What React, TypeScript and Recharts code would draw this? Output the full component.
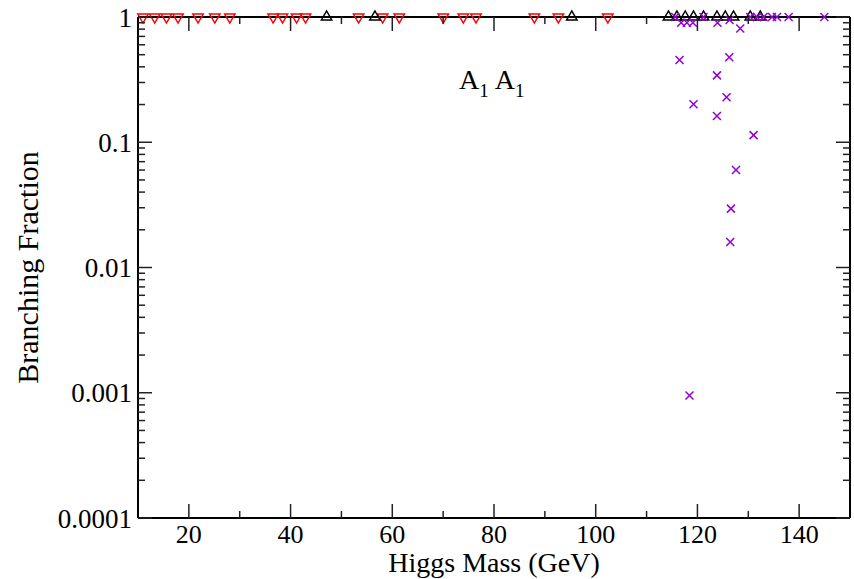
import React from "react";
import {
  ScatterChart,
  Scatter,
  XAxis,
  YAxis,
  Customized,
} from "recharts";

// Higgs mass (GeV) and branching fraction for each marker type
const downMass = [
  10.98, 13.29, 15.59, 17.87, 21.81, 25.1, 28.05, 36.57, 38.42, 41.18, 42.95,
  53.38, 58.1, 61.37, 70.03, 73.96, 76.46, 87.94, 92.66, 102.38,
];
const downBR = [1, 1, 1, 1, 1, 1, 1, 1, 1, 1, 1, 1, 1, 1, 1, 1, 1, 1, 1, 1];

const upMass = [
  47.08, 56.59, 95.3, 114.31, 115.96, 117.6, 119.23, 121.2, 123.84, 125.47,
  127.1, 130.39, 132.36,
];
const upBR = [1, 1, 1, 1, 1, 1, 1, 1, 1, 1, 1, 1, 1];

const crossMass = [
  115.63, 116.81, 117.93, 119.11, 121.2, 123.95, 126.32, 128.42, 130.39,
  131.71, 133.01, 134.66, 135.64, 137.93, 144.95, 116.48, 126.26, 123.84,
  125.73, 119.23, 123.84, 131.04, 127.58, 126.59, 126.45, 118.44,
];
const crossBR = [
  1, 0.9, 0.9, 0.9, 1, 0.9, 0.946, 0.81, 1, 1, 1, 1, 1, 1, 1, 0.454, 0.477,
  0.342, 0.229, 0.201, 0.162, 0.114, 0.06, 0.0295, 0.016, 0.00095,
];

const xTicks = [20, 30, 40, 50, 60, 70, 80, 90, 100, 110, 120, 130, 140];
const yTicks = [
  0.0001, 0.0002, 0.0003, 0.0004, 0.0005, 0.0006, 0.0007, 0.0008, 0.0009,
  0.001, 0.002, 0.003, 0.004, 0.005, 0.006, 0.007, 0.008, 0.009,
  0.01, 0.02, 0.03, 0.04, 0.05, 0.06, 0.07, 0.08, 0.09,
  0.1, 0.2, 0.3, 0.4, 0.5, 0.6, 0.7, 0.8, 0.9, 1,
];
const yLabels: Record<string, string> = {
  "0.0001": "0.0001",
  "0.001": "0.001",
  "0.01": "0.01",
  "0.1": "0.1",
  "1": "1",
};

const toPoints = (xs: number[], ys: number[]) =>
  xs.map((x, i) => ({ x, y: ys[i] }));

const FONT = "'Liberation Serif', 'Times New Roman', serif";
const TICK_COLOR = "#222";

const isDecade = (v: number) =>
  Math.abs(Math.log10(v) - Math.round(Math.log10(v))) < 1e-9;

function XTick(props: any) {
  const { x, y, payload, side } = props;
  const v = payload.value as number;
  const major = v % 20 === 0;
  const len = major ? 14 : 7;
  const dir = side === "top" ? 1 : -1;
  return (
    <g>
      <line x1={x} x2={x} y1={y} y2={y + dir * len} stroke={TICK_COLOR} strokeWidth={1.5} />
      {side === "bottom" && major && (
        <text x={x} y={y + 25} textAnchor="middle" fontFamily={FONT} fontSize={26} fill="#000">
          {v}
        </text>
      )}
    </g>
  );
}

function YTick(props: any) {
  const { x, y, payload, side } = props;
  const v = payload.value as number;
  const major = isDecade(v);
  const len = major ? 14 : 7;
  const dir = side === "left" ? 1 : -1;
  return (
    <g>
      <line x1={x} x2={x + dir * len} y1={y} y2={y} stroke={TICK_COLOR} strokeWidth={1.5} />
      {side === "left" && major && (
        <text x={x - 6} y={y + 9.5} textAnchor="end" fontFamily={FONT} fontSize={27} fill="#000">
          {yLabels[String(v)]}
        </text>
      )}
    </g>
  );
}

const DownTriangle = (props: any) => {
  const { cx, cy } = props;
  const r = 6;
  const h = r * 0.866;
  return (
    <path
      d={`M${cx - h},${cy - r / 2} L${cx + h},${cy - r / 2} L${cx},${cy + r} Z`}
      fill="none"
      stroke="#ff0000"
      strokeWidth={1.5}
    />
  );
};

const UpTriangle = (props: any) => {
  const { cx, cy } = props;
  const r = 6;
  const h = r * 0.866;
  return (
    <path
      d={`M${cx - h},${cy + r / 2} L${cx + h},${cy + r / 2} L${cx},${cy - r} Z`}
      fill="none"
      stroke="#000"
      strokeWidth={1.5}
    />
  );
};

const Cross = (props: any) => {
  const { cx, cy } = props;
  const s = 4;
  return (
    <path
      d={`M${cx - s},${cy - s} L${cx + s},${cy + s} M${cx - s},${cy + s} L${cx + s},${cy - s}`}
      stroke="#9400d3"
      strokeWidth={1.5}
    />
  );
};

const Annotation = () => (
  <text x={459} y={89} fontFamily={FONT} fontSize={28} fill="#000">
    A
    <tspan fontSize={19} dy={8}>1</tspan>
    <tspan dy={-8} dx={6}>A</tspan>
    <tspan fontSize={19} dy={8}>1</tspan>
  </text>
);

export default function App() {
  return (
    <div style={{ position: "absolute", left: 0, top: 0, width: 854, height: 579, background: "#fff" }}>
      <ScatterChart width={854} height={579} margin={{ top: 17, right: 4, bottom: 0, left: 0 }}>
        <XAxis
          xAxisId={0}
          type="number"
          dataKey="x"
          domain={[10, 150]}
          ticks={xTicks}
          interval={0}
          height={61}
          tickSize={0}
          tickMargin={0}
          tickLine={false}
          axisLine={{ stroke: "#000", strokeWidth: 2 }}
          tick={<XTick side="bottom" />}
          label={{
            value: "Higgs Mass (GeV)",
            position: "insideBottom",
            offset: 7,
            fontFamily: FONT,
            fontSize: 28,
            fill: "#000",
          }}
        />
        <XAxis
          xAxisId="top"
          orientation="top"
          mirror
          type="number"
          dataKey="x"
          domain={[10, 150]}
          allowDataOverflow
          ticks={xTicks}
          interval={0}
          tickSize={0}
          tickMargin={0}
          tickLine={false}
          axisLine={{ stroke: "#000", strokeWidth: 2 }}
          tick={<XTick side="top" />}
        />
        <YAxis
          yAxisId={0}
          type="number"
          dataKey="y"
          scale="log"
          domain={[0.0001, 1]}
          ticks={yTicks}
          interval={0}
          width={138}
          tickSize={0}
          tickMargin={0}
          tickLine={false}
          axisLine={{ stroke: "#000", strokeWidth: 2 }}
          tick={<YTick side="left" />}
          label={{
            value: "Branching Fraction",
            angle: -90,
            position: "insideLeft",
            offset: 27,
            style: { textAnchor: "middle" },
            fontFamily: FONT,
            fontSize: 30,
            fill: "#000",
          }}
        />
        <YAxis
          yAxisId="right"
          orientation="right"
          mirror
          type="number"
          dataKey="y"
          scale="log"
          domain={[0.0001, 1]}
          allowDataOverflow
          ticks={yTicks}
          interval={0}
          tickSize={0}
          tickMargin={0}
          tickLine={false}
          axisLine={{ stroke: "#000", strokeWidth: 2 }}
          tick={<YTick side="right" />}
        />
        <Scatter
          data={toPoints(downMass, downBR)}
          shape={<DownTriangle />}
          isAnimationActive={false}
        />
        <Scatter
          data={toPoints(upMass, upBR)}
          shape={<UpTriangle />}
          isAnimationActive={false}
        />
        <Scatter
          data={toPoints(crossMass, crossBR)}
          shape={<Cross />}
          isAnimationActive={false}
        />
        <Customized component={Annotation} />
      </ScatterChart>
    </div>
  );
}
